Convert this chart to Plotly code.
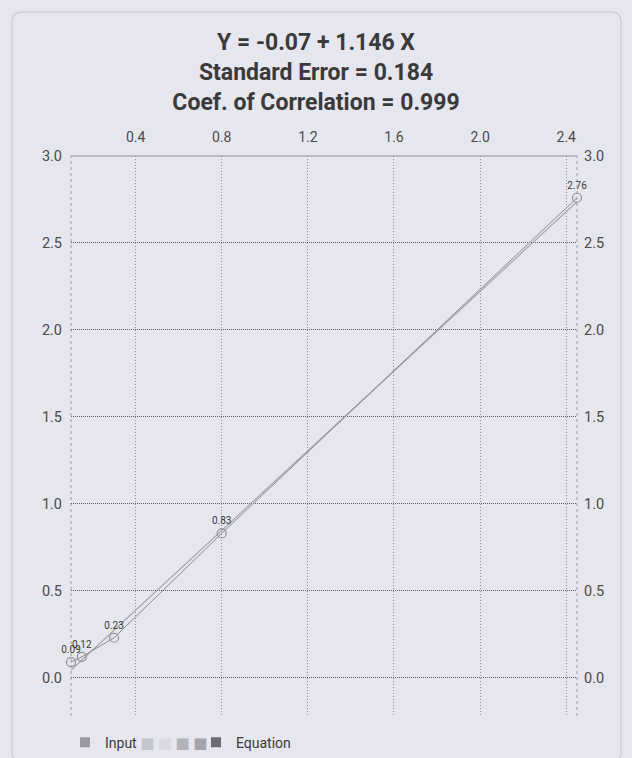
import plotly.graph_objects as go

# Data
x_input = [0.1, 0.15, 0.3, 0.8, 2.45]
y_input = [0.09, 0.12, 0.23, 0.83, 2.76]
point_labels = ["0.09", "0.12", "0.23", "0.83", "2.76"]

intercept = -0.07
slope = 1.146
x_eq = [0.1, 2.45]
y_eq = [intercept + slope * v for v in x_eq]

x_ticks = [0.4, 0.8, 1.2, 1.6, 2.0, 2.4]
y_ticks = [0.0, 0.5, 1.0, 1.5, 2.0, 2.5, 3.0]

title_lines = ["Y = -0.07 + 1.146 X", "Standard Error = 0.184", "Coef. of Correlation = 0.999"]

input_name = "Input"
equation_name = "Equation"
input_color = "#9a9aa0"
equation_color = "#6a6a70"
blank_legend_colors = ["#c4c4ca", "#dadae0", "#b2b2b8", "#a4a4aa"]

BG = "#e6e6ee"
TXT = "#3a3a3a"
TICK = "#4a4a4a"

fig = go.Figure()

fig.add_trace(go.Scatter(
    x=x_eq, y=y_eq, mode="lines",
    line=dict(color="#a4a4aa", width=1.2),
    showlegend=False, hoverinfo="skip"))

fig.add_trace(go.Scatter(
    x=x_input, y=y_input, mode="lines+markers+text",
    line=dict(color="#8a8a90", width=1),
    marker=dict(symbol="circle-open", size=9, color="#909096", line=dict(width=1.2)),
    text=point_labels, textposition="top center",
    textfont=dict(family="Roboto", size=10, color=TXT),
    showlegend=False, cliponaxis=False))

# legend entries (squares)
blank_squares = " ".join(
    f"<span style='color:{c};font-size:15px;font-family:DejaVu Sans'>■</span>"
    for c in blank_legend_colors)
fig.add_trace(go.Scatter(
    x=[None], y=[None], mode="markers",
    marker=dict(symbol="square", size=10, color=input_color),
    name=f"{input_name}&nbsp;{blank_squares}", legend="legend"))
fig.add_trace(go.Scatter(
    x=[None], y=[None], mode="markers",
    marker=dict(symbol="square", size=10, color=equation_color),
    name=equation_name, legend="legend2"))

# invisible trace to activate right-side y axis
fig.add_trace(go.Scatter(x=[None], y=[None], yaxis="y2", showlegend=False))

# plot area in px: left 71, right 577, top 156, bottom 716  -> 506 x 560
PW, PH = 506.0, 560.0
def px_x(px):
    return (px - 71) / PW
def px_y(py):
    return (716 - py) / PH

x0, x1 = px_x(12), px_x(621)
y0, y1 = px_y(762), px_y(12)
rx, ry = 10 / PW, 10 / PH
frame_path = (
    f"M {x0+rx},{y1} L {x1-rx},{y1} Q {x1},{y1} {x1},{y1-ry} "
    f"L {x1},{y0+ry} Q {x1},{y0} {x1-rx},{y0} "
    f"L {x0+rx},{y0} Q {x0},{y0} {x0},{y0+ry} "
    f"L {x0},{y1-ry} Q {x0},{y1} {x0+rx},{y1} Z")

legend_common = dict(
    orientation="h", xref="container", yref="container",
    xanchor="left", yanchor="top",
    font=dict(family="Roboto", size=14, color=TXT),
    bgcolor="rgba(0,0,0,0)", itemwidth=30, tracegroupgap=0)

fig.update_layout(
    width=632, height=758,
    paper_bgcolor=BG, plot_bgcolor=BG,
    margin=dict(l=71, r=55, t=156, b=42),
    font=dict(family="Roboto", color=TXT),
    title=dict(
        text="<br>".join(title_lines),
        x=0.5, xanchor="center", y=0.934, yanchor="top",
        font=dict(family="Roboto", size=23, color=TXT, weight="bold")),
    xaxis=dict(
        side="top", range=[0.1, 2.45], tickvals=x_ticks,
        ticktext=[f"{v:.1f}" for v in x_ticks],
        tickfont=dict(size=14, color=TICK),
        showgrid=True, gridcolor="#8c8c92", griddash="1px,2px", gridwidth=1,
        zeroline=False, showline=False, ticks="", ticklabelstandoff=10,
        automargin=False),
    yaxis=dict(
        range=[-0.22, 3.0], tickvals=y_ticks,
        ticktext=[f"{v:.1f}" for v in y_ticks],
        tickfont=dict(size=14.5, color=TICK),
        showgrid=True, gridcolor="#5c5c62", griddash="1px,1px", gridwidth=1.3,
        zeroline=False, showline=False, ticks="", ticklabelstandoff=8,
        automargin=False),
    yaxis2=dict(
        overlaying="y", side="right", range=[-0.22, 3.0], tickvals=y_ticks,
        ticktext=[f"{v:.1f}" for v in y_ticks],
        tickfont=dict(size=14.5, color=TICK),
        showgrid=False, zeroline=False, showline=False, ticks="",
        ticklabelstandoff=6, automargin=False),
    legend=dict(x=65 / 632, y=0.0414, **legend_common),
    legend2=dict(x=196 / 632, y=0.0414, **legend_common),
    shapes=[
        dict(type="line", xref="paper", yref="paper",
             x0=0, x1=1, y0=1, y1=1, line=dict(color="#8c8c92", width=1),
             layer="below"),
        dict(type="line", xref="paper", yref="paper",
             x0=0, x1=0, y0=0, y1=1, line=dict(color="#9a9aa0", width=1, dash="dot"),
             layer="below"),
        dict(type="line", xref="paper", yref="paper",
             x0=1, x1=1, y0=0, y1=1, line=dict(color="#9a9aa0", width=1, dash="dot"),
             layer="below"),
        dict(type="path", xref="paper", yref="paper", path=frame_path,
             line=dict(color="#cfcfd7", width=1.5), layer="below"),
    ],
)

fig.write_html(
    "out.html",
    config={"displayModeBar": False},
    post_script="document.body.style.margin='0';document.body.style.background='%s';" % BG)
